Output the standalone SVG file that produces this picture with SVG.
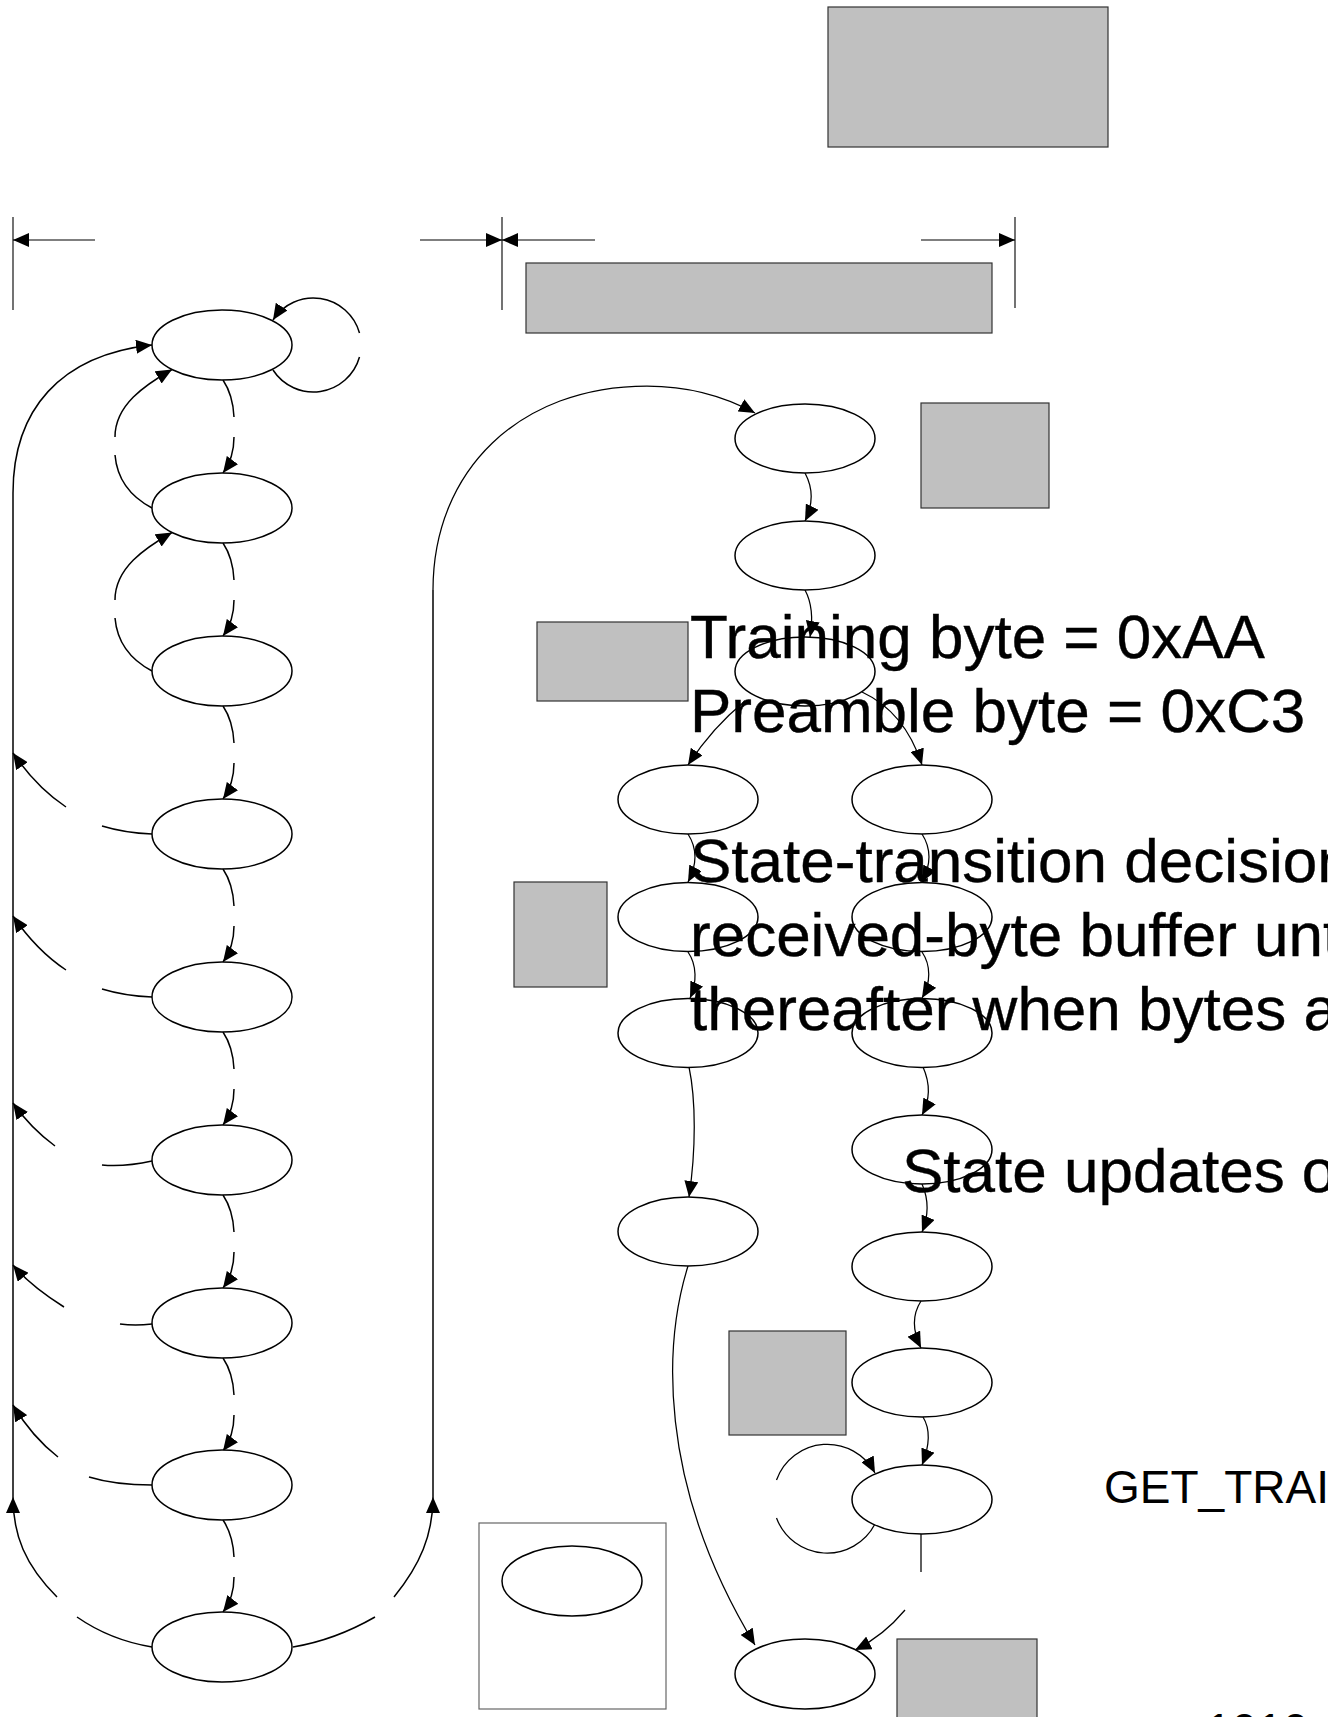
<svg xmlns="http://www.w3.org/2000/svg" width="1328" height="1717" viewBox="0 0 1328 1717">
<style>
.st{fill:#fff;stroke:#000;stroke-width:1.5}
.gr{fill:#c0c0c0;stroke:#333;stroke-width:1.2}
.ln{fill:none;stroke:#000;stroke-width:1.5}
.lt{fill:none;stroke:#000;stroke-width:1.25}
.dm{fill:none;stroke:#000;stroke-width:1.1}
.tx{font-family:"Liberation Sans",Arial,sans-serif;font-size:62px;fill:#000;stroke:#000;stroke-width:0.4}
.ts{font-family:"Liberation Sans",Arial,sans-serif;font-size:46px;fill:#000}
</style>
<defs>
<marker id="a" markerUnits="userSpaceOnUse" markerWidth="16" markerHeight="14" refX="16" refY="7" orient="auto"><path d="M0,0 L16,7 L0,14 z" fill="#000"/></marker>
</defs>
<rect width="1328" height="1717" fill="#fff"/>

<g id="boxes">
<rect id="box-top" class="gr" x="828" y="7" width="280" height="140"/>
<rect id="box-bar" class="gr" x="526" y="263" width="466" height="70"/>
<rect id="box-r1" class="gr" x="921" y="403" width="128" height="105"/>
<rect id="box-m1" class="gr" x="537" y="622" width="151" height="79"/>
<rect id="box-m2" class="gr" x="514" y="882" width="93" height="105"/>
<rect id="box-m3" class="gr" x="729" y="1331" width="117" height="104"/>
<rect id="box-b" class="gr" x="897" y="1639" width="140" height="90"/>
</g>

<g id="legend">
<rect x="479" y="1523" width="187" height="186" fill="#fff" stroke="#666" stroke-width="1.2"/>
<ellipse class="st" cx="572" cy="1581" rx="70" ry="35"/>
</g>

<g id="connectors">
<path class="dm" d="M13,217 V310 M502,217 V310 M1015,217 V308"/>
<path class="dm" d="M95,240 H13" marker-end="url(#a)"/>
<path class="dm" d="M420,240 H502" marker-end="url(#a)"/>
<path class="dm" d="M595,240 H502" marker-end="url(#a)"/>
<path class="dm" d="M921,240 H1015" marker-end="url(#a)"/>

<path class="ln" d="M13,1497 V493"/>
<path class="ln" d="M13,493 C13,410 60,355 152,345" marker-end="url(#a)"/>
<path class="ln" d="M273,370 A48,48 0 0 0 359.5,357"/>
<path class="ln" d="M359.5,333 A48,48 0 0 0 273,320" marker-end="url(#a)"/>
<path class="ln" d="M152,508 Q118,490 115,455"/>
<path class="ln" d="M115,437 C115,405 145,385 172,369.5" marker-end="url(#a)"/>
<path class="ln" d="M152,671 Q118,653 115,618"/>
<path class="ln" d="M115,600 C115,568 145,548 172,532.5" marker-end="url(#a)"/>
<path class="ln" d="M223,380 Q233,395 234,417 M234,437 Q234,458 223,473" marker-end="url(#a)"/>
<path class="ln" d="M223,543 Q233,558 234,580 M234,600 Q234,621 223,636" marker-end="url(#a)"/>
<path class="ln" d="M223,706 Q233,721 234,743 M234,763 Q234,784 223,799" marker-end="url(#a)"/>
<path class="ln" d="M223,869 Q233,884 234,906 M234,926 Q234,947 223,962" marker-end="url(#a)"/>
<path class="ln" d="M223,1032 Q233,1047 234,1069 M234,1089 Q234,1110 223,1125" marker-end="url(#a)"/>
<path class="ln" d="M223,1195 Q233,1210 234,1232 M234,1252 Q234,1273 223,1288" marker-end="url(#a)"/>
<path class="ln" d="M223,1358 Q233,1373 234,1395 M234,1415 Q234,1436 223,1451" marker-end="url(#a)"/>
<path class="ln" d="M223,1520 Q233,1535 234,1557 M234,1577 Q234,1598 223,1612" marker-end="url(#a)"/>
<path class="ln" d="M152,834 Q125,833 102,826 M66,807 C48,795 28,775 13,753" marker-end="url(#a)"/>
<path class="ln" d="M152,997 Q125,996 102,989 M66,970 C48,958 28,938 13,916" marker-end="url(#a)"/>
<path class="ln" d="M152,1161 Q125,1167 102,1165 M55,1146 C40,1135 25,1120 13,1103" marker-end="url(#a)"/>
<path class="ln" d="M152,1324 Q135,1326 120,1324 M64,1307 C45,1295 27,1282 13,1265" marker-end="url(#a)"/>
<path class="ln" d="M152,1485 Q115,1485 89,1477 M58,1457 C40,1443 25,1425 13,1405" marker-end="url(#a)"/>
<path class="ln" d="M152,1647 Q110,1640 77,1617 M57,1597 C25,1565 13,1535 13,1497" marker-end="url(#a)"/>
<path class="ln" d="M293,1647 Q335,1640 375,1617 M394,1597 C420,1565 433,1535 433,1497" marker-end="url(#a)"/>
<path class="ln" d="M433,1497 V590"/>
<path class="lt" d="M433,590 C433,470 520,386 647,386 C700,386 735,402 755,413" marker-end="url(#a)"/>

<path class="lt" d="M805,473 C813,488 813,505 805,521" marker-end="url(#a)"/>
<path class="lt" d="M805,590 C813,605 813,620 810,637" marker-end="url(#a)"/>
<path class="lt" d="M745,701 Q712,728 688,765" marker-end="url(#a)"/>
<path class="lt" d="M862,692 Q905,712 922,765" marker-end="url(#a)"/>
<path class="lt" d="M688,834 C697,848 697,865 688,882" marker-end="url(#a)"/>
<path class="lt" d="M688,952 C697,965 697,983 690,998" marker-end="url(#a)"/>
<path class="lt" d="M689,1067 C696,1100 696,1150 689,1197" marker-end="url(#a)"/>
<path class="lt" d="M688,1266 C665,1340 655,1480 755,1645" marker-end="url(#a)"/>
<path class="lt" d="M922,834 C931,848 931,865 922,882" marker-end="url(#a)"/>
<path class="lt" d="M922,952 C931,965 931,983 922,998" marker-end="url(#a)"/>
<path class="lt" d="M923,1067 C931,1085 930,1100 922,1115" marker-end="url(#a)"/>
<path class="lt" d="M922,1184 C929,1200 929,1215 922,1232" marker-end="url(#a)"/>
<path class="lt" d="M921,1301 C912,1315 912,1330 921,1348" marker-end="url(#a)"/>
<path class="lt" d="M923,1417 C931,1430 930,1445 922,1465" marker-end="url(#a)"/>
<path class="lt" d="M875,1524 A54,54 0 0 1 776.5,1518"/>
<path class="lt" d="M776.5,1480 A54,54 0 0 1 875,1473" marker-end="url(#a)"/>
<path class="lt" d="M921,1534 V1572 M905,1610 C890,1628 875,1640 855,1650" marker-end="url(#a)"/>
</g>

<g id="states-left">
<ellipse id="L1" class="st" cx="222" cy="345" rx="70" ry="35"/>
<ellipse id="L2" class="st" cx="222" cy="508" rx="70" ry="35"/>
<ellipse id="L3" class="st" cx="222" cy="671" rx="70" ry="35"/>
<ellipse id="L4" class="st" cx="222" cy="834" rx="70" ry="35"/>
<ellipse id="L5" class="st" cx="222" cy="997" rx="70" ry="35"/>
<ellipse id="L6" class="st" cx="222" cy="1160" rx="70" ry="35"/>
<ellipse id="L7" class="st" cx="222" cy="1323" rx="70" ry="35"/>
<ellipse id="L8" class="st" cx="222" cy="1485" rx="70" ry="35"/>
<ellipse id="L9" class="st" cx="222" cy="1647" rx="70" ry="35"/>
</g>

<g id="states-right">
<ellipse id="R1" class="st" cx="805" cy="438.5" rx="70" ry="34.5"/>
<ellipse id="R2" class="st" cx="805" cy="555.5" rx="70" ry="34.5"/>
<ellipse id="R3" class="st" cx="805" cy="671.5" rx="70" ry="34.5"/>
<ellipse id="A1" class="st" cx="688" cy="799.5" rx="70" ry="34.5"/>
<ellipse id="A2" class="st" cx="688" cy="917" rx="70" ry="34.5"/>
<ellipse id="A3" class="st" cx="688" cy="1033" rx="70" ry="34.5"/>
<ellipse id="A4" class="st" cx="688" cy="1231.5" rx="70" ry="34.5"/>
<ellipse id="B1" class="st" cx="922" cy="799.5" rx="70" ry="34.5"/>
<ellipse id="B2" class="st" cx="922" cy="917" rx="70" ry="34.5"/>
<ellipse id="B3" class="st" cx="922" cy="1033" rx="70" ry="34.5"/>
<ellipse id="B4" class="st" cx="922" cy="1149.5" rx="70" ry="34.5"/>
<ellipse id="B5" class="st" cx="922" cy="1266.5" rx="70" ry="34.5"/>
<ellipse id="B6" class="st" cx="922" cy="1382.5" rx="70" ry="34.5"/>
<ellipse id="B7" class="st" cx="922" cy="1499.5" rx="70" ry="34.5"/>
<ellipse id="END" class="st" cx="805" cy="1674" rx="70" ry="35"/>
</g>

<g id="texts">
<text class="tx" x="690" y="658">Training byte = 0xAA</text>
<text class="tx" x="690" y="732">Preamble byte = 0xC3</text>
<text class="tx" x="690" y="882">State-transition decision</text>
<text class="tx" x="690" y="956">received-byte buffer unt</text>
<text class="tx" x="690" y="1030">thereafter when bytes a</text>
<text class="tx" x="902" y="1192">State updates o</text>
<text class="ts" x="1104" y="1503">GET_TRAI</text>
<text class="ts" x="1206" y="1746">1010</text>
</g>
</svg>
